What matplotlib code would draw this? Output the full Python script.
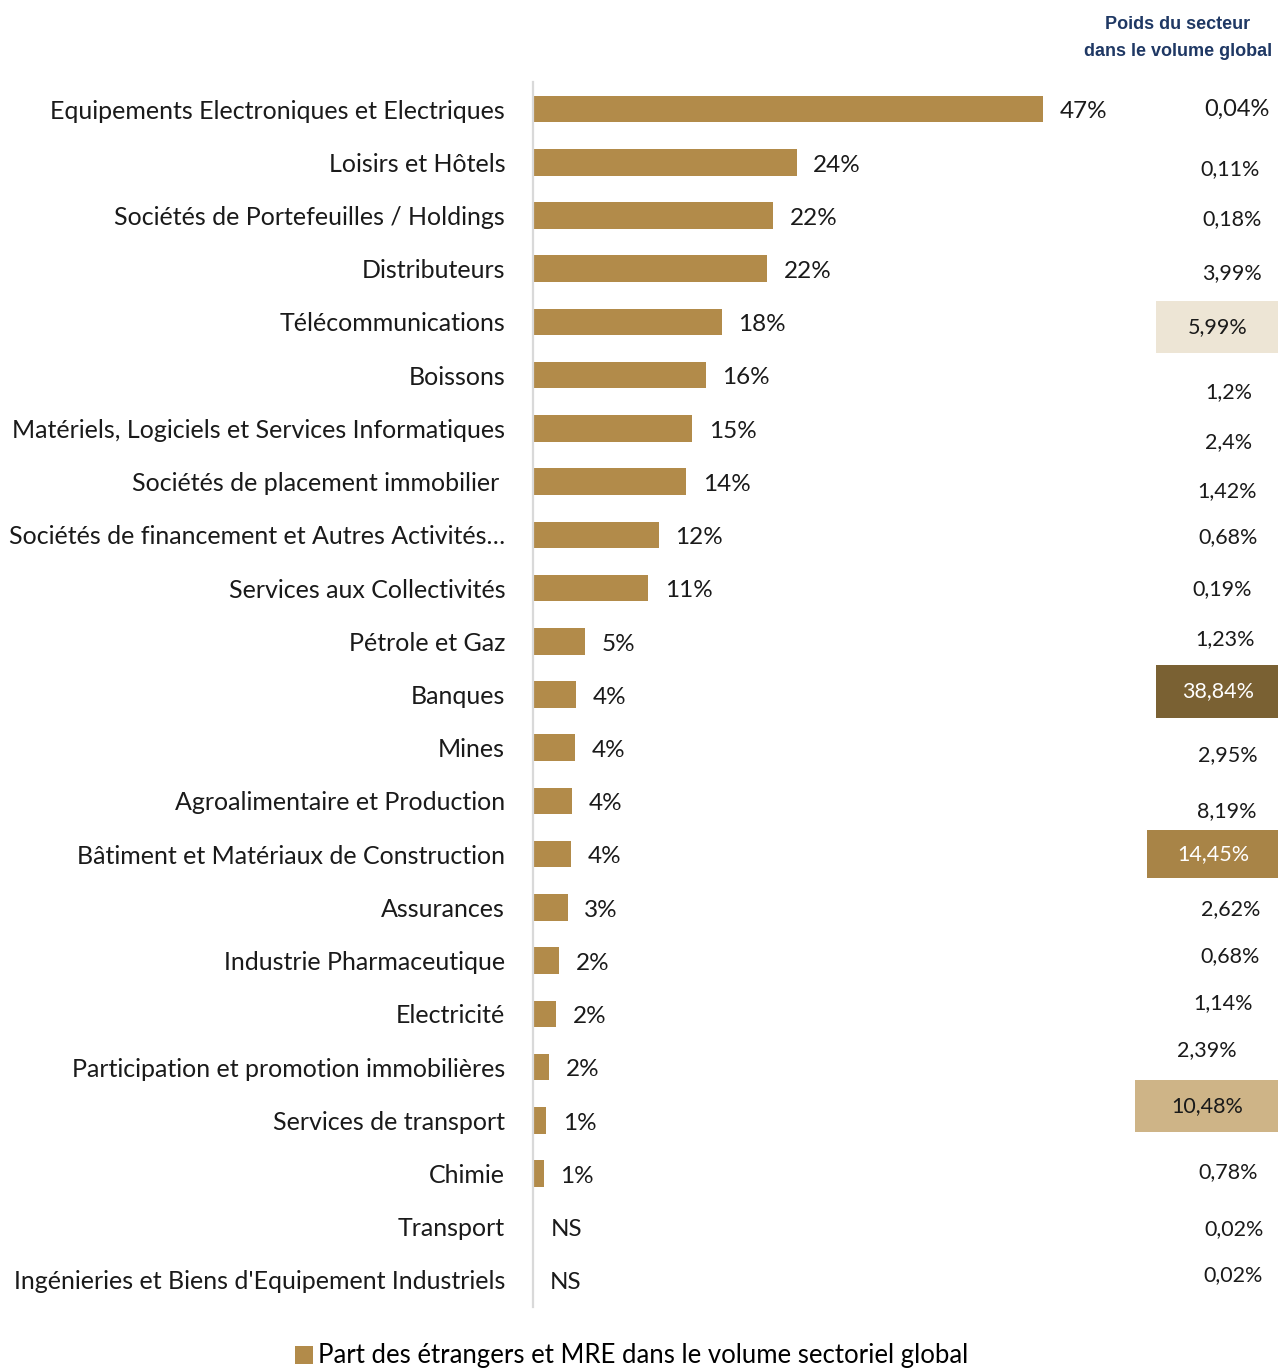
import matplotlib
matplotlib.use('Agg')
import matplotlib.pyplot as plt
import matplotlib.transforms as mtransforms
from matplotlib.patches import Rectangle, Patch

plt.rcParams['font.family'] = ['Lato', 'DejaVu Sans']

# Data
categories = [
    "Equipements Electroniques et Electriques",
    "Loisirs et Hôtels",
    "Sociétés de Portefeuilles / Holdings",
    "Distributeurs",
    "Télécommunications",
    "Boissons",
    "Matériels, Logiciels et Services Informatiques",
    "Sociétés de placement immobilier ",
    "Sociétés de financement et Autres Activités…",
    "Services aux Collectivités",
    "Pétrole et Gaz",
    "Banques",
    "Mines",
    "Agroalimentaire et Production",
    "Bâtiment et Matériaux de Construction",
    "Assurances",
    "Industrie Pharmaceutique",
    "Electricité",
    "Participation et promotion immobilières",
    "Services de transport",
    "Chimie",
    "Transport",
    "Ingénieries et Biens d'Equipement Industriels",
]
part_etrangers = [47.0, 24.3, 22.1, 21.6, 17.4, 15.9, 14.7, 14.1, 11.6, 10.6,
                  4.8, 4.0, 3.9, 3.6, 3.5, 3.2, 2.4, 2.1, 1.5, 1.2, 1.0, 0.1, 0.0]
bar_labels = ["47%", "24%", "22%", "22%", "18%", "16%", "15%", "14%", "12%", "11%",
              "5%", "4%", "4%", "4%", "4%", "3%", "2%", "2%", "2%", "1%", "1%", "NS", "NS"]
poids_secteur = ["0,04%", "0,11%", "0,18%", "3,99%", "5,99%", "1,2%", "2,4%", "1,42%",
                 "0,68%", "0,19%", "1,23%", "38,84%", "2,95%", "8,19%", "14,45%", "2,62%",
                 "0,68%", "1,14%", "2,39%", "10,48%", "0,78%", "0,02%", "0,02%"]

# Layout of right column (row offsets in rows, right edge in px)
poids_dy = [0.0, 0.13, 0.06, 0.08, 0.09, 0.32, 0.26, 0.17, 0.04, 0.02, -0.04, -0.06,
            0.13, 0.19, 0.0, 0.04, -0.08, -0.21, -0.32, -0.26, -0.02, 0.04, -0.09]
poids_x = [1270, 1260, 1262, 1262, 1248, 1252, 1252, 1257, 1258, 1252, 1255, 1254,
           1258, 1257, 1249, 1260, 1260, 1253, 1237, 1243, 1258, 1264, 1263]
# highlighted boxes: row -> (left px, height px, color, text color)
boxes = {4: (1156, 52, '#EDE5D5', '#1a1a1a'),
         11: (1156, 53, '#7A6133', 'white'),
         14: (1147, 48, '#A88447', 'white'),
         19: (1135, 52, '#CEB487', '#1a1a1a')}

W, H = 1278, 1369
fig = plt.figure(figsize=(W / 100, H / 100), dpi=100)
ax_left, ax_right, ax_top, ax_bot = 533, 1120, 82.4, 1306.6
ax = fig.add_axes([ax_left / W, 1 - ax_bot / H, (ax_right - ax_left) / W, (ax_bot - ax_top) / H])

bar_color = '#B28B4A'
y = list(range(len(categories)))
ax.barh(y, part_etrangers, height=0.5, color=bar_color)
ax.set_ylim(len(categories) - 0.5, -0.5)
ax.set_xlim(0, (ax_right - ax_left) / 10.85)

ax.set_yticks(y)
ax.set_yticklabels(categories, fontsize=18, color='#1a1a1a')
ax.tick_params(axis='y', length=0, pad=20)
ax.set_xticks([])
for s in ['top', 'right', 'bottom']:
    ax.spines[s].set_visible(False)
ax.spines['left'].set_color('#d9d9d9')
ax.spines['left'].set_linewidth(1.6)

for yi, v, lab in zip(y, part_etrangers, bar_labels):
    ax.annotate(lab, (v, yi), xytext=(12, -2), textcoords='offset points',
                ha='left', va='center', fontsize=17.5, color='#1a1a1a')

# right column
trans = mtransforms.blended_transform_factory(fig.transFigure, ax.transData)
row_h = (ax_bot - ax_top) / len(categories)
for i, txt in enumerate(poids_secteur):
    tcolor = '#1a1a1a'
    if i in boxes:
        left, hpx, bc, tcolor = boxes[i]
        hrow = hpx / row_h
        ax.add_patch(Rectangle((left / W, i + poids_dy[i] - hrow / 2), (W - left) / W, hrow,
                               transform=trans, facecolor=bc, edgecolor='none',
                               clip_on=False))
    ax.text(poids_x[i] / W, i + poids_dy[i], txt, transform=trans, ha='right',
            va='center', fontsize=17 if i == 0 else 15.5, color=tcolor)

fig.text(1178 / W, 1 - 38 / H, "Poids du secteur\ndans le volume global", ha='center',
         va='center', fontsize=13, fontweight='bold', color='#1F3864',
         family=['Liberation Sans', 'DejaVu Sans'], linespacing=1.75)

fig.legend(handles=[Patch(facecolor=bar_color)],
           labels=["Part des étrangers et MRE dans le volume sectoriel global"],
           loc='center', bbox_to_anchor=(632 / W, 1 - 1356 / H), frameon=False,
           fontsize=18.5, handlelength=0.7, handleheight=0.7, handletextpad=0.2)

fig.savefig('out.png', dpi=100)
